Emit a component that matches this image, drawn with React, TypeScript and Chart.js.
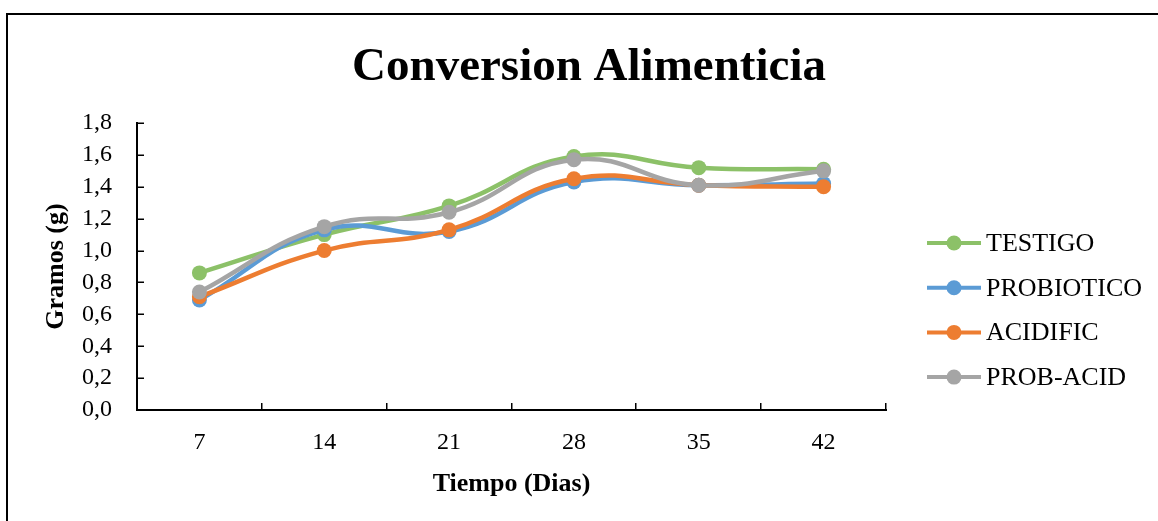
import { useEffect, useRef } from 'react';
import { Chart, registerables } from 'chart.js';

Chart.register(...registerables);

// Days of measurement
const days = ['7', '14', '21', '28', '35', '42'];

// Feed conversion per treatment (g)
const testigo = [0.86, 1.10, 1.28, 1.59, 1.52, 1.51];
const probiotico = [0.69, 1.13, 1.12, 1.43, 1.41, 1.42];
const acidific = [0.71, 1.00, 1.13, 1.45, 1.41, 1.40];
const probAcid = [0.74, 1.15, 1.24, 1.57, 1.41, 1.50];

const seriesNames = ['TESTIGO', 'PROBIOTICO', 'ACIDIFIC', 'PROB-ACID'];
const seriesValues = [testigo, probiotico, acidific, probAcid];
const seriesColors = ['#8CC168', '#5B9BD5', '#ED7D31', '#A5A5A5'];

const yMin = 0;
const yMax = 1.8;
const yStep = 0.2;

const titleText = 'Conversion Alimenticia';
const xTitle = 'Tiempo (Dias)';
const yTitle = 'Gramos (g)';

const W = 1158;
const H = 521;
const SERIF = '"Liberation Serif", "Times New Roman", serif';

const decorations = {
  id: 'decorations',
  beforeDraw(chart: any) {
    const ctx = chart.ctx;
    ctx.save();
    ctx.fillStyle = '#fff';
    ctx.fillRect(0, 0, W, H);
    // outer frame
    ctx.strokeStyle = '#000';
    ctx.lineWidth = 2;
    ctx.beginPath();
    ctx.moveTo(7, H + 10);
    ctx.lineTo(7, 14);
    ctx.lineTo(W + 10, 14);
    ctx.stroke();
    ctx.restore();
  },
  afterDraw(chart: any) {
    const ctx = chart.ctx;
    const area = chart.chartArea;
    const ys = chart.scales.y;
    ctx.save();

    // inward tick marks
    ctx.strokeStyle = '#000';
    ctx.lineWidth = 1.5;
    ctx.beginPath();
    for (let v = yMin; v <= yMax + 1e-9; v += yStep) {
      const y = Math.round(ys.getPixelForValue(v)) + 0.25;
      ctx.moveTo(area.left, y);
      ctx.lineTo(area.left + 7, y);
    }
    const band = (area.right - area.left) / days.length;
    for (let i = 1; i <= days.length; i++) {
      const x = Math.round(area.left + i * band) - 0.25;
      ctx.moveTo(x, area.bottom);
      ctx.lineTo(x, area.bottom - 7);
    }
    ctx.stroke();

    // chart title
    ctx.fillStyle = '#000';
    ctx.textAlign = 'center';
    ctx.textBaseline = 'alphabetic';
    ctx.font = `bold 47px ${SERIF}`;
    ctx.fillText(titleText, 589, 80);

    // axis titles
    ctx.font = `bold 26px ${SERIF}`;
    ctx.fillText(xTitle, (area.left + area.right) / 2, 491);
    ctx.save();
    ctx.translate(63, (area.top + area.bottom) / 2);
    ctx.rotate(-Math.PI / 2);
    ctx.fillText(yTitle, 0, 0);
    ctx.restore();

    // legend
    ctx.textAlign = 'left';
    ctx.textBaseline = 'middle';
    ctx.font = `26px ${SERIF}`;
    seriesNames.forEach((name, i) => {
      const cy = 243 + i * 44.7;
      ctx.strokeStyle = seriesColors[i];
      ctx.lineWidth = 4;
      ctx.beginPath();
      ctx.moveTo(927, cy);
      ctx.lineTo(981, cy);
      ctx.stroke();
      ctx.fillStyle = seriesColors[i];
      ctx.beginPath();
      ctx.arc(954, cy, 7.5, 0, Math.PI * 2);
      ctx.fill();
      ctx.fillStyle = '#000';
      ctx.fillText(name, 986, cy + 1);
    });
    ctx.restore();
  },
};

export default function App() {
  const canvasRef = useRef<HTMLCanvasElement>(null);

  useEffect(() => {
    const canvas = canvasRef.current;
    if (!canvas) return;
    const chart = new Chart(canvas, {
      type: 'line',
      data: {
        labels: days,
        datasets: seriesNames.map((name, i) => ({
          label: name,
          data: seriesValues[i],
          borderColor: seriesColors[i],
          backgroundColor: seriesColors[i],
          borderWidth: 4.5,
          pointRadius: 7.5,
          pointBorderWidth: 0,
          pointBackgroundColor: seriesColors[i],
          tension: 0.45,
          fill: false,
          order: seriesNames.length - i,
        })),
      },
      options: {
        responsive: false,
        animation: false,
        devicePixelRatio: 1,
        layout: { padding: { left: 0, top: 123, right: W - 886, bottom: 0 } },
        plugins: {
          legend: { display: false },
          title: { display: false },
          tooltip: { enabled: false },
        },
        scales: {
          x: {
            type: 'category',
            offset: true,
            grid: { display: true, drawOnChartArea: false, drawTicks: false },
            border: { display: true, color: '#000', width: 2 },
            ticks: {
              color: '#000',
              padding: 18,
              font: { family: SERIF, size: 24 },
              maxRotation: 0,
            },
            afterFit(scale: any) {
              scale.height = H - 410;
            },
          },
          y: {
            min: yMin,
            max: yMax,
            grid: { display: true, drawOnChartArea: false, drawTicks: false },
            border: { display: true, color: '#000', width: 2 },
            ticks: {
              stepSize: yStep,
              color: '#000',
              padding: 25,
              font: { family: SERIF, size: 24 },
              callback: (v: any) => Number(v).toFixed(1).replace('.', ','),
            },
            afterFit(scale: any) {
              scale.width = 137;
            },
          },
        },
      },
      plugins: [decorations],
    });
    return () => chart.destroy();
  }, []);

  return (
    <div style={{ position: 'fixed', left: 0, top: 0, width: W, height: H, background: '#fff' }}>
      <canvas ref={canvasRef} width={W} height={H} style={{ display: 'block' }} />
    </div>
  );
}
